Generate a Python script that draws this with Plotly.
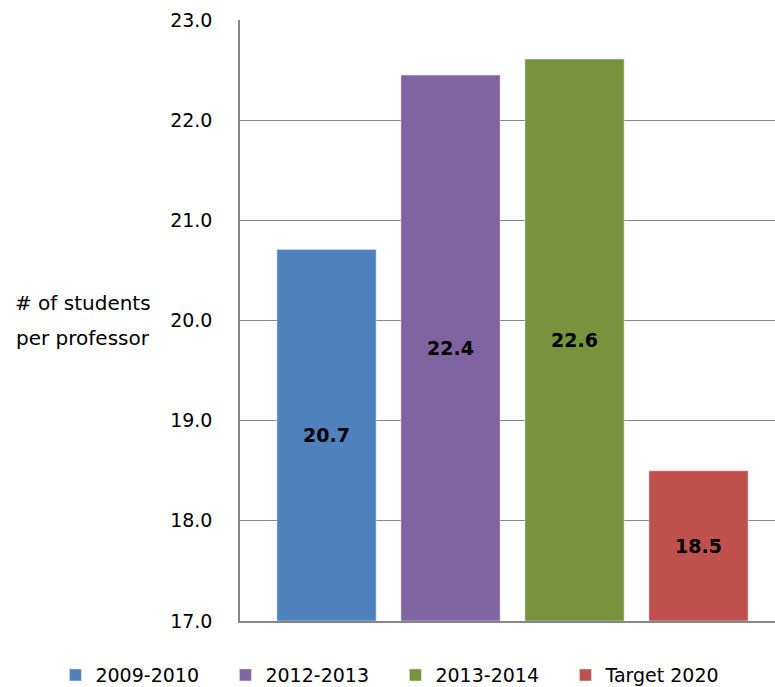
import plotly.graph_objects as go

series = ["2009-2010", "2012-2013", "2013-2014", "Target 2020"]
values = [20.71, 22.45, 22.61, 18.5]
labels = ["20.7", "22.4", "22.6", "18.5"]
colors = ["#4F81BD", "#8064A2", "#77933C", "#C0504D"]
yticks = [17.0, 18.0, 19.0, 20.0, 21.0, 22.0, 23.0]
ytitle_lines = ["# of students", "per professor"]
ymin, ymax = 17.0, 23.0

FONT = "DejaVu Sans"
FS = 19

fig = go.Figure()
for s, v, l, c in zip(series, values, labels, colors):
    fig.add_trace(go.Bar(
        x=[s], y=[v - ymin], base=[ymin], name=s, marker_color=c, width=0.8,
        text=[l], textposition="inside", insidetextanchor="middle",
        textangle=0, hoverinfo="skip",
        textfont=dict(family=FONT, size=FS, color="black", weight="bold"),
    ))

fig.update_layout(
    width=775, height=687,
    margin=dict(l=240, r=0, t=20, b=66, autoexpand=False),
    plot_bgcolor="white", paper_bgcolor="white",
    font=dict(family=FONT, size=FS, color="black"),
    showlegend=True,
    legend=dict(orientation="h", xref="paper", yref="paper",
                x=-0.345, y=-0.09, xanchor="left", yanchor="middle",
                font=dict(size=FS), entrywidth=125, entrywidthmode="pixels",
                itemwidth=30, traceorder="normal"),
)
fig.update_xaxes(range=[-0.698, 3.617], showticklabels=False, showline=True,
                 linecolor="#868686", linewidth=1.5, showgrid=False, ticks="")
fig.update_yaxes(range=[ymin, ymax], tickvals=yticks,
                 ticktext=[f"{t:.1f}" for t in yticks],
                 showgrid=True, gridcolor="#868686", gridwidth=1,
                 showline=True, linecolor="#868686", linewidth=1.5,
                 ticks="", ticklabelstandoff=22, zeroline=False)
for line, yp in zip(ytitle_lines, [0.529, 0.471]):
    fig.add_annotation(text=line, xref="paper", yref="paper",
                       x=-0.294, y=yp, xanchor="center", yanchor="middle",
                       showarrow=False, font=dict(size=20))
fig.write_html("out.html", config={"displayModeBar": False},
               post_script="document.body.style.margin='0';document.body.style.padding='0';")
